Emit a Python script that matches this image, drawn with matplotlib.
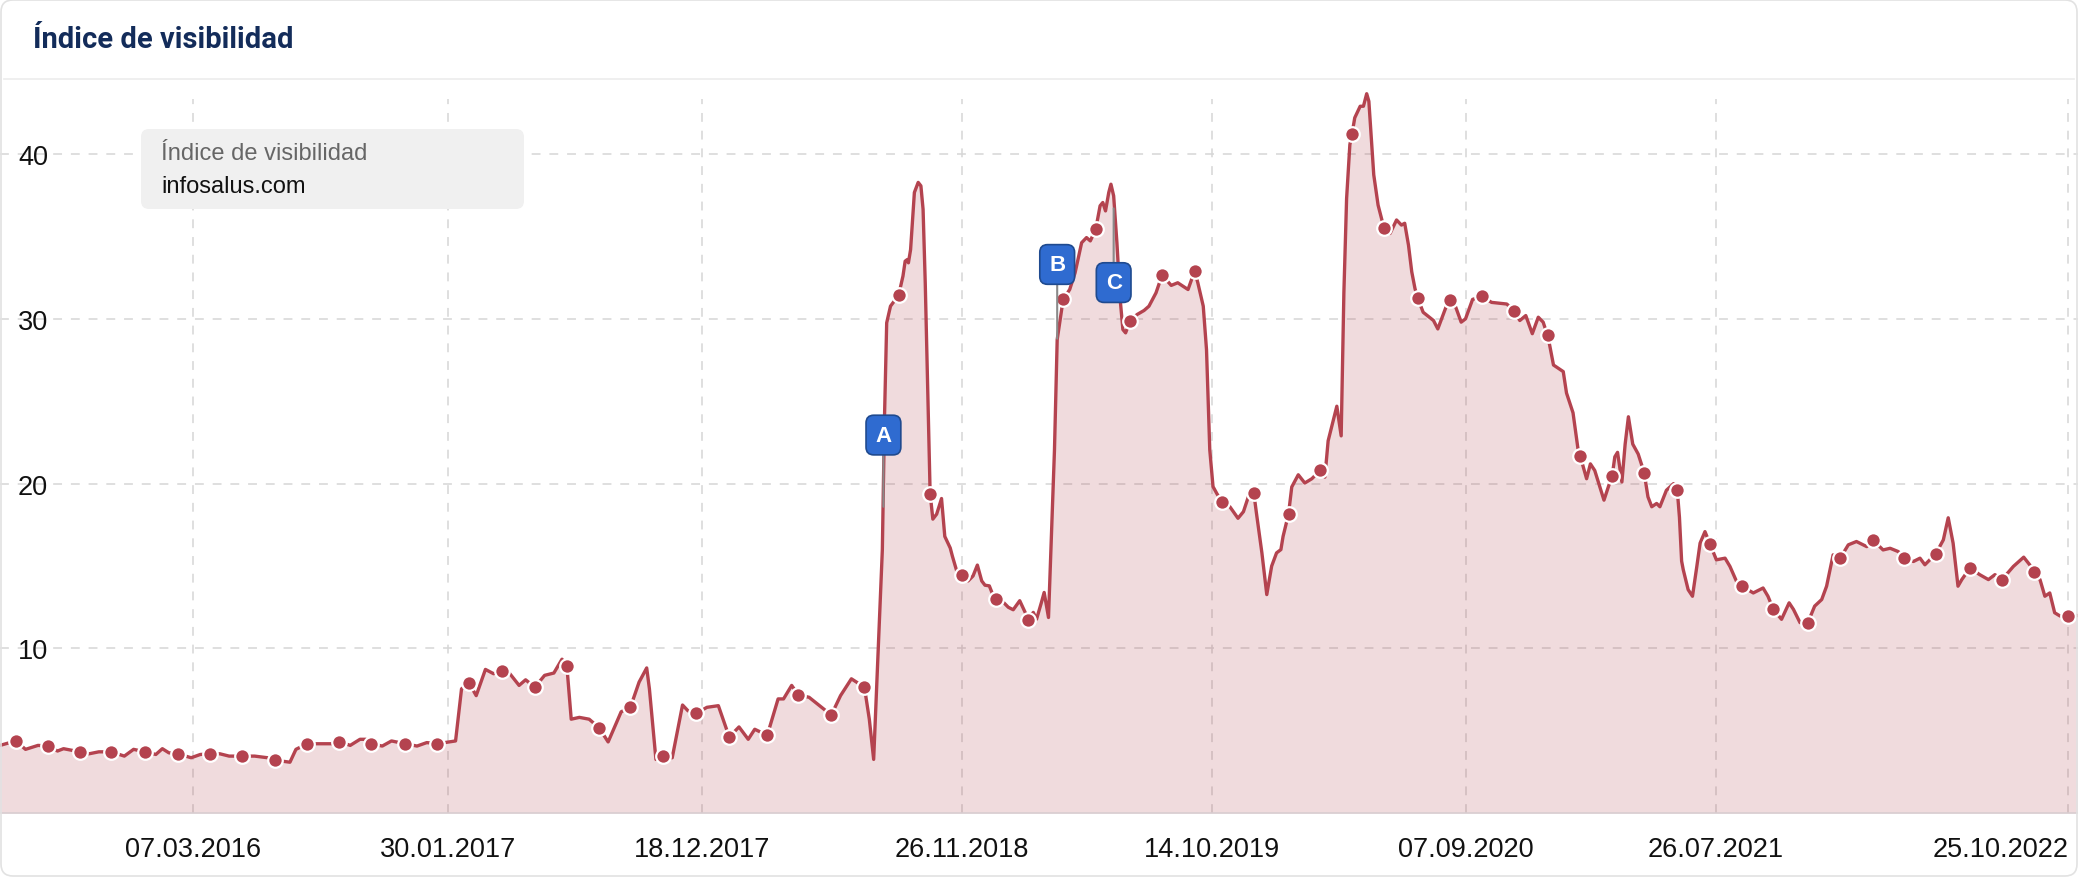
import matplotlib
matplotlib.use("Agg")
import matplotlib.pyplot as plt
from matplotlib.patches import FancyBboxPatch

# weekly visibility index of infosalus.com, x = week position on the ordinal axis
line_weeks = [
    0.0, 2.9, 4.7, 7.0, 8.8, 10.6, 11.7, 14.7, 16.4, 18.2, 20.5, 22.9, 24.6, 26.7, 28.7, 29.9,
    31.1, 32.8, 35.2, 36.9, 38.7, 40.5, 42.2, 44.6, 46.9, 49.3, 50.7, 53.4, 54.5, 56.6, 58.7,
    61.0, 62.5, 64.5, 66.3, 67.4, 68.4, 70.4, 72.1, 74.6, 76.8, 78.6, 80.5, 83.9, 85.0, 86.4,
    87.7, 89.4, 90.9, 92.4, 93.8, 95.6, 96.8, 98.5, 100.3, 102.0, 103.5, 104.4, 105.2, 106.7,
    108.5, 110.3, 112.0, 114.4, 116.1, 117.7, 119.1, 119.6, 120.8, 122.1, 123.8, 125.7, 126.7,
    128.2, 130.2, 132.3, 134.3, 136.1, 137.8, 139.0, 141.3, 143.3, 144.3, 145.8, 147.0, 149.0,
    153.1, 154.8, 156.8, 159.2, 160.1, 160.9, 162.5, 162.9, 163.3, 164.0, 165.5, 166.3, 166.7,
    167.1, 167.3, 167.7, 168.4, 169.1, 169.6, 170.0, 170.4, 170.9, 171.3, 171.8, 172.5, 173.4,
    174.0, 175.0, 175.4, 176.2, 177.1, 178.3, 179.2, 180.0, 180.8, 181.4, 182.2, 182.8, 183.4,
    184.8, 185.7, 186.6, 187.8, 188.8, 189.3, 190.3, 190.9, 191.8, 192.3, 193.1, 194.2, 194.7,
    195.8, 197.0, 198.0, 199.2, 200.1, 200.8, 201.8, 202.6, 203.1, 203.6, 204.2, 204.6, 205.1,
    205.7, 206.3, 206.8, 207.3, 208.1, 209.4, 210.7, 211.6, 212.9, 214.0, 215.0, 215.7, 216.9,
    218.8, 220.0, 220.6, 221.6, 222.2, 222.8, 223.4, 224.1, 225.1, 226.5, 228.0, 229.0, 229.9,
    230.9, 231.4, 232.4, 233.3, 234.2, 235.1, 235.9, 236.3, 237.3, 237.9, 239.1, 240.3, 241.6,
    243.1, 244.0, 244.6, 246.2, 247.0, 247.5, 248.0, 248.6, 249.0, 249.5, 250.5, 251.1, 251.7,
    252.1, 252.6, 253.0, 253.8, 254.9, 256.0, 257.2, 258.1, 258.7, 259.4, 260.0, 260.6, 261.1,
    262.1, 264.0, 264.8, 266.3, 267.0, 268.1, 269.1, 269.9, 271.2, 272.9, 274.7, 277.5, 278.8,
    279.9, 281.0, 282.2, 283.3, 284.2, 285.0, 285.4, 286.1, 287.9, 288.5, 289.7, 290.7, 291.0,
    292.2, 292.9, 293.7, 295.4, 296.5, 296.9, 297.4, 297.9, 298.7, 299.3, 299.9, 300.7, 301.7,
    302.8, 303.5, 304.2, 305.1, 305.7, 306.9, 308.2, 308.9, 309.3, 309.7, 310.0, 310.9, 311.7,
    312.5, 313.1, 314.0, 314.9, 316.1, 317.7, 318.6, 319.8, 320.8, 322.9, 324.7, 325.6, 326.6,
    328.1, 329.5, 330.3, 331.5, 332.9, 334.2, 335.5, 336.4, 337.6, 338.9, 340.4, 341.9, 343.8,
    344.9, 346.8, 348.1, 349.6, 350.6, 352.4, 353.6, 354.5, 356.5, 357.9, 358.8, 359.7, 360.6,
    361.3, 362.8, 364.6, 366.2, 367.4, 368.7, 370.8, 372.7, 373.8, 374.6, 375.7, 376.6, 377.5,
    378.4, 379.4, 380.9, 382.7,
]
line_values = [
    4.12, 4.39, 3.88, 4.12, 4.08, 3.78, 3.92, 3.73, 3.61, 3.73, 3.73, 3.47, 3.88, 3.73, 3.57, 3.92,
    3.67, 3.61, 3.37, 3.57, 3.61, 3.61, 3.47, 3.47, 3.47, 3.37, 3.22, 3.10, 3.88, 4.22, 4.22,
    4.22, 4.35, 4.12, 4.49, 4.49, 4.22, 4.08, 4.39, 4.22, 4.08, 4.29, 4.22, 4.39, 7.55, 7.90,
    7.14, 8.73, 8.47, 8.63, 8.51, 7.76, 8.10, 7.65, 8.37, 8.51, 9.35, 8.92, 5.71, 5.82,
    5.71, 5.20, 4.33, 6.16, 6.43, 7.96, 8.82, 7.55, 3.27, 3.47, 3.37, 6.57, 6.22,
    6.06, 6.43, 6.53, 4.63, 5.24, 4.49, 5.10, 4.73, 6.94, 6.94, 7.76, 7.18, 7.04,
    5.96, 7.14, 8.16, 7.65, 5.71, 3.27, 16.0, 24.08, 29.76, 30.77, 31.44, 32.6, 33.5,
    33.6, 33.4, 34.2, 37.67, 38.28, 38.07, 36.65, 32.19, 25.09, 19.4, 17.85, 18.15, 19.1,
    16.8, 16.1, 15.6, 14.7, 14.45, 14.1, 14.4, 15.06, 14.1, 13.84, 13.8, 13.3, 13.0,
    12.8, 12.5, 12.35, 12.9, 12.19, 11.7, 12.19, 11.78, 12.8, 13.4, 11.88, 22.05, 28.74,
    31.18, 31.78, 32.8, 34.62, 34.93, 34.73, 35.44, 36.86, 37.06, 36.55, 37.67, 38.17, 37.46,
    34.62, 31.18, 29.35, 29.15, 29.86, 30.26, 30.51, 30.77, 31.58, 32.64, 32.29, 32.03, 32.19,
    31.78, 32.9, 32.19, 30.77, 28.13, 22.05, 19.82, 19.4, 18.86, 18.6, 17.9, 18.3, 19.2,
    19.46, 18.2, 15.8, 13.27, 15.0, 15.8, 16.0, 16.8, 18.15, 19.8, 20.54, 20.04, 20.3,
    20.8, 20.4, 22.6, 24.7, 22.9, 31.6, 37.3, 40.57, 41.22, 42.2, 42.9, 42.9, 43.66,
    43.2, 40.77, 38.74, 36.9, 35.49, 35.18, 36.0, 35.69, 35.8, 34.47, 32.85, 31.83, 31.26,
    30.4, 29.9, 29.39, 30.71, 31.12, 30.71, 29.8, 30.0, 31.18, 31.36, 31.0, 30.9, 30.5,
    29.9, 30.2, 29.1, 30.1, 29.8, 29.0, 28.4, 27.2, 26.8, 25.5, 24.3, 21.9, 21.7,
    20.3, 21.2, 20.8, 19.0, 20.1, 20.45, 21.63, 21.9, 20.1, 22.4, 24.06, 22.4, 21.8,
    20.67, 19.2, 18.6, 18.8, 18.6, 19.6, 20.0, 19.6, 17.96, 15.3, 14.78, 13.57, 13.17,
    14.98, 16.39, 17.09, 16.35, 15.38, 15.48, 14.98, 14.08, 13.78, 13.37, 13.67, 13.17, 12.37,
    11.77, 12.77, 12.37, 11.57, 11.53, 12.57, 12.97, 13.78, 15.68, 15.48, 16.29, 16.49, 16.18,
    16.59, 15.98, 16.08, 15.88, 15.48, 15.28, 15.48, 15.08, 15.74, 16.59, 17.93, 16.39, 13.78,
    14.18, 14.88, 14.48, 14.18, 14.48, 14.18, 14.98, 15.54, 15.08, 14.64, 14.18, 13.17, 13.37,
    12.17, 11.97, 12.0, 12.0,
]

dot_weeks = [
    2.9, 8.8, 14.7, 20.5, 26.7, 32.8, 38.7, 44.6, 50.7, 56.6, 62.5, 68.4, 74.6, 80.5, 86.4, 92.4,
    98.5, 104.4, 110.3, 116.1, 122.1, 128.2, 134.3, 141.3, 147.0, 153.1, 159.2, 165.5, 171.3,
    177.1, 183.4, 189.3, 195.8, 201.8, 208.1, 214.0, 220.0, 225.1, 230.9, 237.3, 243.1, 249.0,
    254.9, 261.1, 267.0, 272.9, 278.8, 285.0, 291.0, 296.9, 302.8, 308.9, 314.9, 320.8, 326.6,
    332.9, 338.9, 344.9, 350.6, 356.5, 362.8, 368.7, 374.6, 380.9,
]
dot_values = [
    4.39, 4.08, 3.73, 3.73, 3.73, 3.61, 3.61, 3.47, 3.22, 4.22, 4.35, 4.22, 4.22, 4.22, 7.90, 8.63,
    7.65, 8.92, 5.20, 6.43, 3.47, 6.06, 4.63, 4.73, 7.18, 5.96, 7.65, 31.44, 19.4,
    14.45, 13.0, 11.7, 31.18, 35.44, 29.86, 32.64, 32.9, 18.86, 19.46, 18.15, 20.8, 41.22,
    35.49, 31.26, 31.12, 31.36, 30.5, 29.0, 21.7, 20.45, 20.67, 19.6, 16.35, 13.78, 12.37,
    11.53, 15.48, 16.59, 15.48, 15.74, 14.88, 14.18, 14.64, 12.0,
]

tick_weeks = [35.6, 82.5, 129.3, 177.1, 223.2, 269.9, 316.0, 380.9]
tick_labels = ["07.03.2016", "30.01.2017", "18.12.2017", "26.11.2018",
               "14.10.2019", "07.09.2020", "26.07.2021", "25.10.2022"]

flag_labels = ["A", "B", "C"]
flag_weeks = [162.7, 194.7, 205.1]
flag_point_values = [18.6, 28.8, 36.7]
flag_box_values = [22.95, 33.3, 32.2]

line_color = "#b4434f"
label_font = ["Liberation Sans", "DejaVu Sans"]

fig = plt.figure(figsize=(20.78, 8.78), dpi=100)
fig.patch.set_facecolor("white")

# title and separator
fig.text(33 / 2078, 1 - 40 / 878, "Índice de visibilidad", family=["Roboto", "DejaVu Sans"],
         fontweight="bold", fontsize=21, color="#132c5a", va="center", ha="left")
fig.add_artist(plt.Line2D([0.002, 0.998], [1 - 80 / 878, 1 - 80 / 878],
                          transform=fig.transFigure, color="#ececec", lw=1.2))

ax = fig.add_axes([0, 63.7 / 878, 1, 714.3 / 878])
ax.set_facecolor("none")
ax.set_xlim(0, 382.7)
ax.set_ylim(0, 43.34)

ax.set_axisbelow(True)
ax.grid(True, color="#d6d6d6", lw=1.1, linestyle=(0, (5.8, 5.8)))

ax.fill_between(line_weeks, line_values, 0, color=line_color, alpha=0.19, lw=0,
                zorder=1, clip_on=False)
ax.plot(line_weeks, line_values, color=line_color, lw=2.4, solid_joinstyle="round",
        zorder=2, clip_on=False)
ax.plot(dot_weeks, dot_values, "o", color=line_color, ms=10.5, mec="white", mew=1.6,
        zorder=3, clip_on=False)

# event flags
for lab, fx, fy, by in zip(flag_labels, flag_weeks, flag_point_values, flag_box_values):
    ax.annotate(lab, xy=(fx, fy), xytext=(fx, by), ha="center", va="center",
                fontsize=16, fontweight="bold", color="white", family=label_font,
                bbox=dict(boxstyle="round,pad=0.42,rounding_size=0.35", fc="#2f6bd0",
                          ec="#1f4a8f", lw=1.2),
                arrowprops=dict(arrowstyle="-", color="#8a8a8a", lw=1.5,
                                shrinkA=0, shrinkB=0),
                zorder=5)

ax.set_yticks([10, 20, 30, 40])
ax.set_xticks(tick_weeks)
ax.set_xticklabels(tick_labels)
ax.tick_params(axis="both", length=0, labelsize=19.5, colors="#111111")
ax.tick_params(axis="y", pad=-13)
ax.tick_params(axis="x", pad=16)
for t in ax.get_yticklabels():
    t.set_horizontalalignment("left")
    t.set_family(label_font)
for t in ax.get_xticklabels():
    t.set_family(label_font)
ax.get_xticklabels()[-1].set_horizontalalignment("right")

for side in ["left", "right", "top"]:
    ax.spines[side].set_visible(False)
ax.spines["bottom"].set_color("#d8cdd0")
ax.spines["bottom"].set_linewidth(1.2)

# legend box
fig.patches.append(FancyBboxPatch((1.41, 6.68), 3.83, 0.80,
                                  boxstyle="round,pad=0,rounding_size=0.08",
                                  transform=fig.dpi_scale_trans, fc="#f0f0f0",
                                  ec="none", zorder=4))
fig.text(161 / 2078, 1 - 154 / 878, "Índice de visibilidad", family=label_font,
         fontsize=17, color="#666666", va="center", ha="left", zorder=5)
fig.text(161 / 2078, 1 - 187 / 878, "infosalus.com", family=label_font,
         fontsize=17, color="#111111", va="center", ha="left", zorder=5)

# card frame on top
fig.patches.append(FancyBboxPatch((0.01, 0.01), 20.76, 8.76,
                                  boxstyle="round,pad=0,rounding_size=0.12",
                                  transform=fig.dpi_scale_trans, fc="none",
                                  ec="#e2e2e2", lw=1.2, zorder=10))

fig.savefig("out.png", dpi=100, facecolor="white")
